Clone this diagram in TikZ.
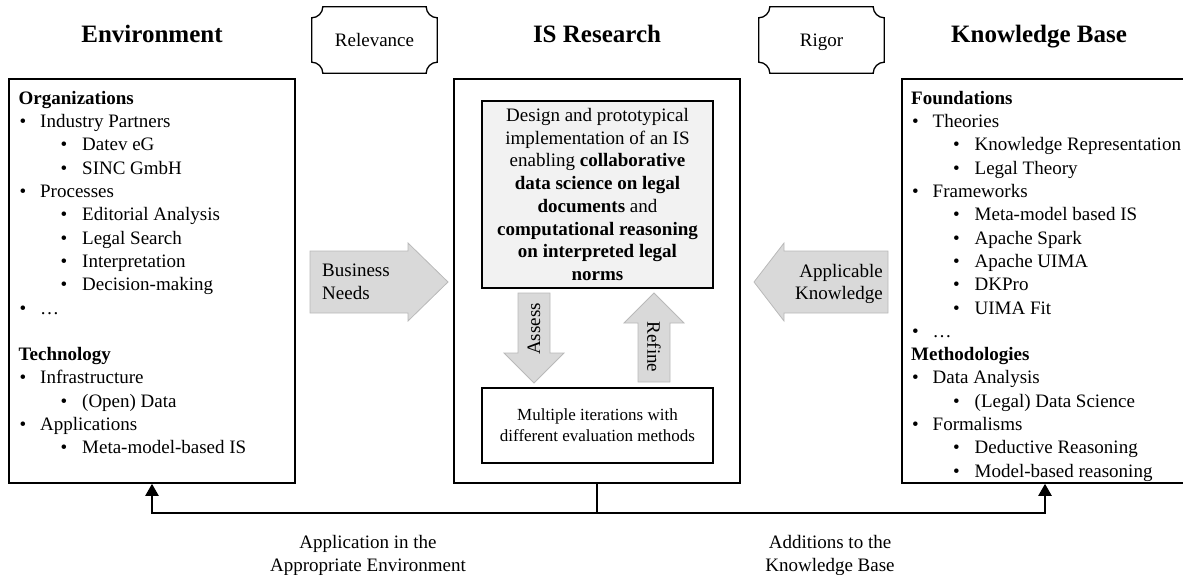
\documentclass[tikz,border=0pt]{standalone}
\usepackage{fontspec}
\setmainfont{Liberation Serif}
\usetikzlibrary{arrows.meta,calc}

\definecolor{arrowfill}{RGB}{217,217,217}
\definecolor{arrowedge}{RGB}{185,185,185}
\definecolor{corefill}{RGB}{242,242,242}

% list items, first and second level
\newcommand\bulone[1]{\hspace*{1pt}\makebox[20.5pt][l]{\textbullet}#1}
\newcommand\bultwo[1]{\hspace*{42pt}\makebox[21.5pt][l]{\textbullet}#1}

% frame with concave corners around a node
\newcommand\plaqueframe[1]{%
  \draw[line width=1.3pt]
    ($(#1.north west)+(11,0)$) -- ($(#1.north east)+(-11,0)$)
    .. controls +(0,6) and +(-6,0) .. ($(#1.north east)+(0,11)$)
    -- ($(#1.south east)+(0,-11)$)
    .. controls +(-6,0) and +(0,-6) .. ($(#1.south east)+(-11,0)$)
    -- ($(#1.south west)+(11,0)$)
    .. controls +(0,-6) and +(6,0) .. ($(#1.south west)+(0,-11)$)
    -- ($(#1.north west)+(0,11)$)
    .. controls +(6,0) and +(0,6) .. ($(#1.north west)+(11,0)$) -- cycle;}

\begin{document}
\begin{tikzpicture}[x=1pt,y=-1pt,
  txt/.style={font=\fontsize{19}{23.3}\selectfont, inner sep=0pt},
  title/.style={font=\fontsize{25}{30}\selectfont\bfseries, inner sep=0pt, anchor=base},
  column/.style={draw, line width=1.6pt, minimum width=286pt, minimum height=404pt, inner sep=0pt},
  plaquetext/.style={txt, minimum width=125pt, minimum height=66pt, text height=13pt, text depth=0pt},
  fatarrow/.style={fill=arrowfill, draw=arrowedge, line width=0.8pt},
  innerbox/.style={draw, line width=1.4pt, minimum width=231pt},
  link/.style={line width=2.2pt},
  tip/.style={-{Triangle[width=13pt,length=12pt]}}]

\useasboundingbox (0,0) rectangle (1183,575);

% three columns
\node[column] (env) at (152,281) {};
\node[column] (isr) at (597,281) {};
\node[column] (kb) at (1045,281) {};

% headings
\node[title] (envT) at (152,43) {Environment};
\node[title] (isrT) at (597,43) {IS Research};
\node[title] (kbT) at (1039,43) {Knowledge Base};

% relevance and rigor cycles
\node[plaquetext] (rel) at (374.5,40) {Relevance};
\plaqueframe{rel}
\node[plaquetext] (rig) at (821.5,40) {Rigor};
\plaqueframe{rig}

% environment contents
\node[txt, align=left, anchor=north west] (envlist) at (18.5,91) {%
\textbf{Organizations}\\
\bulone{Industry Partners}\\
\bultwo{Datev eG}\\
\bultwo{SINC GmbH}\\
\bulone{Processes}\\
\bultwo{Editorial Analysis}\\
\bultwo{Legal Search}\\
\bultwo{Interpretation}\\
\bultwo{Decision-making}\\
\bulone{…}\\[23.3pt]
\textbf{Technology}\\
\bulone{Infrastructure}\\
\bultwo{(Open) Data}\\
\bulone{Applications}\\
\bultwo{Meta-model-based IS}};

% knowledge base contents
\node[txt, align=left, anchor=north west] (kblist) at (911,91) {%
\textbf{Foundations}\\
\bulone{Theories}\\
\bultwo{Knowledge Representation}\\
\bultwo{Legal Theory}\\
\bulone{Frameworks}\\
\bultwo{Meta-model based IS}\\
\bultwo{Apache Spark}\\
\bultwo{Apache UIMA}\\
\bultwo{DKPro}\\
\bultwo{UIMA Fit}\\
\bulone{…}\\
\textbf{Methodologies}\\
\bulone{Data Analysis}\\
\bultwo{(Legal) Data Science}\\
\bulone{Formalisms}\\
\bultwo{Deductive Reasoning}\\
\bultwo{Model-based reasoning}};

% research artefact and evaluation
\node[innerbox, fill=corefill, minimum height=187pt, align=center,
      font=\fontsize{19}{22.7}\selectfont, inner sep=2pt] (core) at (597.5,194.5) {%
Design and prototypical\\
implementation of an IS\\
enabling \textbf{collaborative}\\
\textbf{data science on legal}\\
\textbf{documents} and\\
\textbf{computational reasoning}\\
\textbf{on interpreted legal}\\
\textbf{norms}};
\node[innerbox, minimum height=75pt, align=center,
      font=\fontsize{17}{21}\selectfont] (eval) at (597.5,425.5) {%
Multiple iterations with\\different evaluation methods};

% assess / refine loop
\draw[fatarrow] (518,293) -- (550,293) -- (550,353) -- (564,353) -- (534,383)
  -- (504,353) -- (518,353) -- cycle;
\node[txt, rotate=90] (assess) at (534,329) {Assess};
\draw[fatarrow] (654,293) -- (684,323) -- (670,323) -- (670,382) -- (638,382)
  -- (638,323) -- (624,323) -- cycle;
\node[txt, rotate=-90] (refine) at (654,347) {Refine};

% business needs and applicable knowledge
\draw[fatarrow] (310,251) -- (408,251) -- (408,243) -- (448,282) -- (408,321)
  -- (408,313) -- (310,313) -- cycle;
\node[txt, align=left, anchor=north west, font=\fontsize{19}{22.5}\selectfont] (needs) at (322,264) {Business\\Needs};
\draw[fatarrow] (754,282) -- (784,243) -- (784,251) -- (888,251) -- (888,313)
  -- (784,313) -- (784,321) -- cycle;
\node[txt, align=right, anchor=north east, font=\fontsize{19}{22.5}\selectfont] (appk) at (883,264) {Applicable\\Knowledge};

% feedback to environment and knowledge base
\coordinate (split) at (597,513);
\draw[link] (isr.south) -- (split);
\draw[link, tip] (split) -| (env.south);
\draw[link, tip] (split) -| (kb.south);

\node[txt, align=center, anchor=north, font=\fontsize{19}{23}\selectfont] (appl) at (368,535) {Application in the\\Appropriate Environment};
\node[txt, align=center, anchor=north, font=\fontsize{19}{23}\selectfont] (addk) at (830,535) {Additions to the\\Knowledge Base};

\end{tikzpicture}
\end{document}
